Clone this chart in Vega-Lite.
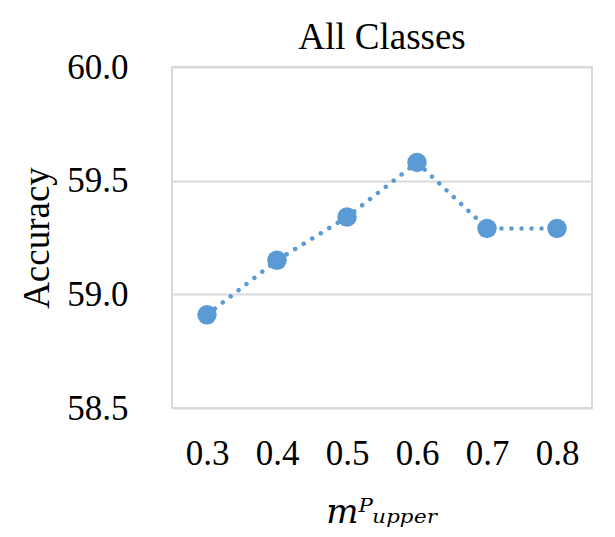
{
  "$schema": "https://vega.github.io/schema/vega-lite/v6.json",
  "autosize": "none",
  "width": 420,
  "height": 341,
  "padding": {"left": 172, "top": 67, "right": 23, "bottom": 129},
  "background": "white",
  "title": {"text": "All Classes", "font": "Liberation Serif", "fontSize": 37, "fontWeight": "normal", "color": "black", "offset": -7},
  "config": {
    "view": {"stroke": "#d9d9d9", "strokeWidth": 2},
    "font": "Liberation Serif"
  },
  "data": {"values": [
    {"m": "0.3", "acc": 58.91},
    {"m": "0.4", "acc": 59.15},
    {"m": "0.5", "acc": 59.34},
    {"m": "0.6", "acc": 59.58},
    {"m": "0.7", "acc": 59.29},
    {"m": "0.8", "acc": 59.29}
  ]},
  "encoding": {
    "x": {"field": "m", "type": "ordinal", "scale": {"padding": 0.5},
      "axis": {"title": "mᴾᵤₚₚₑᵣ", "titleFont": "DejaVu Serif", "titleFontStyle": "italic", "titleFontWeight": "normal", "titleFontSize": 34, "titleColor": "black", "titlePadding": 24,
        "labelAngle": 0, "labelFont": "Liberation Serif", "labelFontSize": 35, "labelColor": "black", "labelPadding": 28, "ticks": false, "domain": false, "grid": false}},
    "y": {"field": "acc", "type": "quantitative", "scale": {"domain": [58.5, 60], "nice": false, "zero": false},
      "axis": {"title": "Accuracy", "titleFont": "Liberation Serif", "titleFontWeight": "normal", "titleFontSize": 37, "titleColor": "black", "titlePadding": 10,
        "values": [58.5, 59, 59.5, 60], "format": ".1f", "labelFont": "Liberation Serif", "labelFontSize": 35, "labelColor": "black", "labelPadding": 44,
        "ticks": false, "domain": false, "grid": true, "gridColor": "#d9d9d9", "gridWidth": 2}}
  },
  "layer": [
    {"mark": {"type": "line", "color": "#5B9BD5", "strokeWidth": 4.5, "strokeDash": [0.01, 10], "strokeCap": "round"}},
    {"mark": {"type": "point", "filled": true, "opacity": 1, "color": "#5B9BD5", "size": 380}}
  ]
}
